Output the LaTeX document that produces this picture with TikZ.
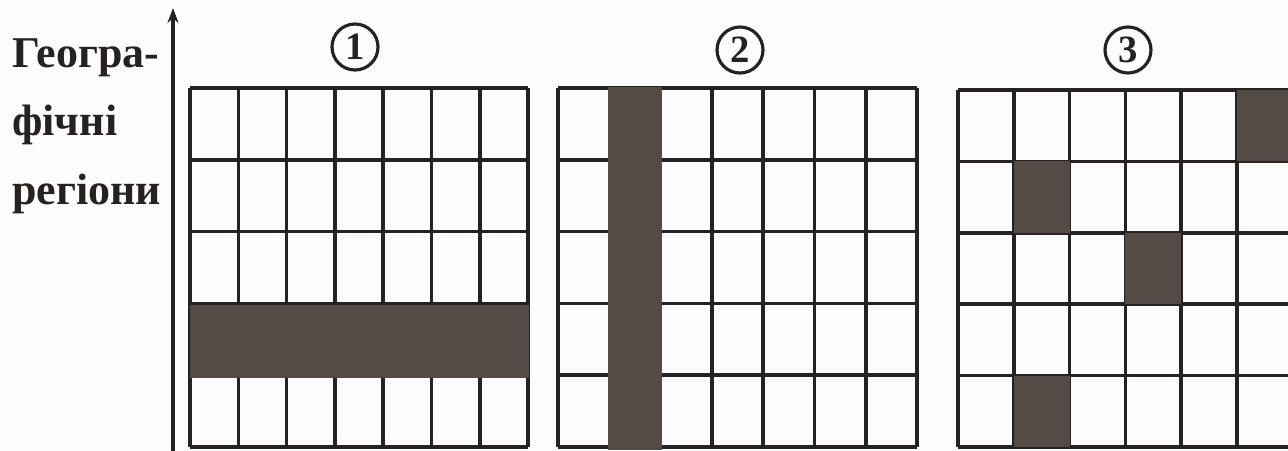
\documentclass[tikz,border=0pt]{standalone}
\usepackage{fontspec}
\setmainfont{Liberation Serif}
\usetikzlibrary{arrows.meta, positioning, calc}
\definecolor{inkgray}{RGB}{38,34,34}
\definecolor{bandfill}{RGB}{84,74,70}
\definecolor{paper}{RGB}{252,252,252}
\tikzset{
    gridline/.style={line width=2pt, draw=inkgray},
    cellfill/.style={fill=bandfill, draw=none},
    numcircle/.style={circle, draw=inkgray, line width=1.8pt, minimum size=0.92cm, inner sep=0pt, font=\fontsize{22}{22}\selectfont\bfseries, text=inkgray},
    axislabel/.style={font=\fontsize{25}{39}\selectfont\bfseries, align=left, inner sep=0pt, text=inkgray},
    axisarrow/.style={-{Stealth[length=3mm,width=2.2mm]}, line width=2pt, draw=inkgray}
}
\begin{document}
\begin{tikzpicture}[x=0.02cm, y=-0.02cm]
    \fill[paper] (0,0) rectangle (1288,450);
    \useasboundingbox (0,0) rectangle (1288,450);
    \clip (0,0) rectangle (1288,450);

    % Label and axis
    \node[axislabel, anchor=north west] (regions) at (12,38) {Геогра-\\фічні\\регіони};
    \coordinate (axisbot) at (173,452);
    \coordinate (axistop) at (173,8);
    \draw[axisarrow] (axisbot) -- (axistop);

    % Grid 1: one row filled
    \foreach \i in {0,...,7} \draw[gridline] (190+\i*48.3,88) -- (190+\i*48.3,447);
    \foreach \j in {0,...,5} \draw[gridline] (190,88+\j*71.8) -- (528,88+\j*71.8);
    \fill[cellfill] (190,305) rectangle (529,378);
    \node[numcircle] (n1) at (355,47) {1};

    % Grid 2: one column filled
    \foreach \i in {0,...,7} \draw[gridline] (558+\i*51.3,88) -- (558+\i*51.3,447);
    \foreach \j in {0,...,5} \draw[gridline] (558,88+\j*71.8) -- (917,88+\j*71.8);
    \fill[cellfill] (608,87) rectangle (662,450);
    \node[numcircle] (n2) at (740,50) {2};

    % Grid 3: scattered cells
    \foreach \i in {0,...,7} \draw[gridline] (958+\i*55.8,90) -- (958+\i*55.8,447);
    \foreach \j in {0,...,5} \draw[gridline] (958,90+\j*71.4) -- (1348,90+\j*71.4);
    \foreach \c/\r in {6/1, 2/2, 4/3, 2/5}
        \fill[cellfill] (958+\c*55.8-55.8,90+\r*71.4-71.4) rectangle (958+\c*55.8,90+\r*71.4);
    \node[numcircle] (n3) at (1128,50) {3};
\end{tikzpicture}
\end{document}
